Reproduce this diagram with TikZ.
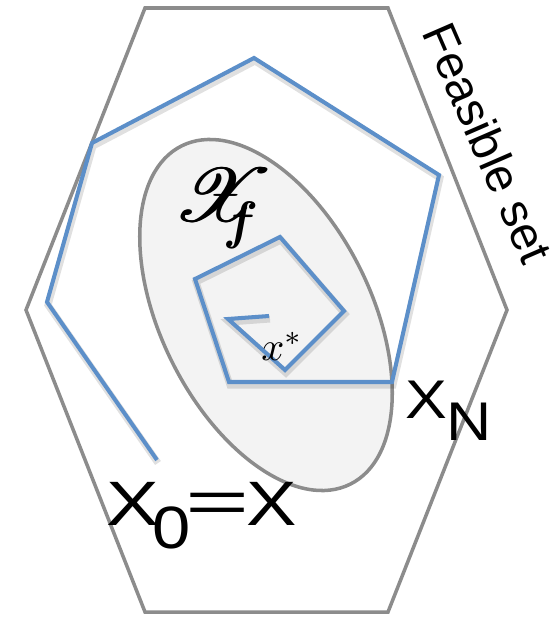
\documentclass[tikz,border=0pt]{standalone}
\usepackage[no-math]{fontspec}
\IfFileExists{mathrsfs.sty}{\usepackage{mathrsfs}}{\let\mathscr\mathcal}
\newfontfamily\hv[FakeStretch=1.15]{Liberation Sans}
\newfontfamily\hvplain{Liberation Sans}
\definecolor{trajblue}{RGB}{92,143,201}
\definecolor{setgray}{RGB}{140,140,140}
\definecolor{setfill}{RGB}{243,243,243}
% 加粗的花体 X
\newcommand\heavyX{\rlap{$\mathscr{X}$}\kern0.12pt\rlap{$\mathscr{X}$}\kern0.12pt$\mathscr{X}$}
\begin{document}
\begin{tikzpicture}[x=0.02cm, y=-0.02cm, line join=miter,
	grayline/.style={draw=setgray, line width=2pt},
	traj/.style={draw=trajblue, line width=2.3pt,
		preaction={draw=black, draw opacity=0.12, line width=4pt, transform canvas={shift={(1,3)}}}},
	lbl/.style={font=\hv\fontsize{31}{36}\selectfont, inner sep=0pt}]
	% 画布范围
	\useasboundingbox (0,0) rectangle (558,618);
	
	% 可行集 (六边形)
	\draw[grayline] (145,8) -- (388,8) -- (507,310) -- (388,612) -- (145,612) -- (26,310) -- cycle;
	
	% 终端集 X_f
	\draw[grayline, fill=setfill, rotate around={-63.5:(266,315)}] (266,315) ellipse [x radius=189, y radius=105];
	
	% 轨迹
	\draw[traj] (157,460) -- (47,302) -- (92,143) -- (254,58) -- (439,175) -- (392,382) -- (229,382)
		-- (195,279) -- (280,237) -- (344,311) -- (285,370) -- (228,319) -- (269,316);
	
	% 标注
	\node[font=\hvplain\fontsize{27}{32}\selectfont, inner sep=0pt, rotate=-66.5] (feas) at (488,143) {Feasible set};
	\node[inner sep=0pt, anchor=base west] (xf) at (172,221) {\scalebox{4.7}[4.3]{\heavyX}};
	\node[inner sep=0pt, anchor=base west, font=\fontsize{30}{36}\selectfont\bfseries\itshape] (xfsub) at (227,238) {f};
	\node[inner sep=0pt, anchor=base west] (xstar) at (261,360) {\scalebox{2.3}{$x^*$}};
	\node[lbl, anchor=base west] (xn) at (405,418) {X\kern-0.02cm\raisebox{-0.46cm}{N}};
	\node[lbl, anchor=base west, font=\hv\fontsize{34}{40}\selectfont] (x0) at (106,525)
		{\scalebox{1.15}[1.05]{X}\kern-0.14cm\raisebox{-0.46cm}{0}\kern-0.1cm\raisebox{0.06cm}{\scalebox{1.6}[1]{=}}\kern-0.06cm\scalebox{1.1}[1.05]{X}};
\end{tikzpicture}
\end{document}
